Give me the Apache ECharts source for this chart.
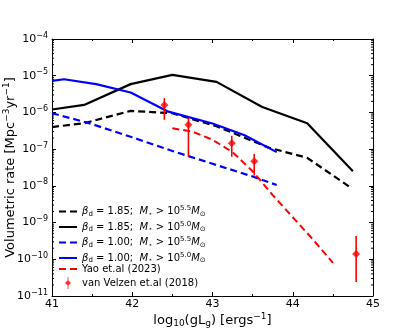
<!DOCTYPE html>
<html>
<head>
<meta charset="utf-8">
<script src="https://cdn.jsdelivr.net/npm/echarts@6/dist/echarts.min.js"></script>
<style>
  html, body { margin: 0; padding: 0; background: #fff; }
  #chart { width: 415px; height: 332px; }
</style>
</head>
<body>
<div id="chart"></div>
<script>
// model curves (x = log10 gLg, y = volumetric rate)
var xB185 = [41, 41.4, 41.98, 42.5, 43.05, 43.62, 44.18, 44.75];
var yB185s50 = [1.2e-6, 1.6e-6, 5.9e-6, 1.05e-5, 6.8e-6, 1.4e-6, 5.1e-7, 2.5e-8];
var xB185d = [41, 41.4, 41.98, 42.5, 43.05, 43.7, 44.18, 44.72];
var yB185s55 = [4e-7, 5.1e-7, 1.1e-6, 9.5e-7, 4.2e-7, 1.1e-7, 5.8e-8, 9e-9];
var xB100 = [41, 41.15, 41.55, 41.98, 42.45, 43.0, 43.4, 43.8];
var yB100s50 = [7.2e-6, 8e-6, 5.9e-6, 3.5e-6, 1.05e-6, 5e-7, 2.4e-7, 8.3e-8];
var xB100d = [41, 41.45, 42, 42.5, 43, 43.5, 43.8];
var yB100s55 = [9.5e-7, 5.2e-7, 2.1e-7, 8.9e-8, 4e-8, 1.8e-8, 1.05e-8];
// Yao et al (2023)
var xYao = [42.5, 42.75, 43, 43.25, 43.5, 43.75, 44, 44.25, 44.5];
var yYao = [3.7e-7, 3e-7, 1.8e-7, 8.3e-8, 2.5e-8, 5.6e-9, 1.4e-9, 3.5e-10, 8e-11];
// van Velzen et al (2018)
var xVV = [42.4, 42.7, 43.24, 43.52, 44.79];
var yVV = [1.6e-6, 4.6e-7, 1.45e-7, 4.7e-8, 1.4e-10];
var loVV = [6.3e-7, 6.2e-8, 6.2e-8, 1.9e-8, 2.4e-11];
var hiVV = [2.45e-6, 7.1e-7, 2.3e-7, 7.4e-8, 4.3e-10];

// log minor ticks 2..9 of each decade
var minorMant = [2, 3, 4, 5, 6, 7, 8, 9];
var decades = [1e-11, 1e-10, 1e-9, 1e-8, 1e-7, 1e-6, 1e-5];

var modelNames = ['b185_55', 'b185_50', 'b100_55', 'b100_50'];
var obsNames = ['Yao et.al (2023)', 'van Velzen et.al (2018)'];
var legendText = {
  b185_55: '{i|β}{sub|d}{n| = 1.85;  }{i|M}{sub|⋆}{n| > 10}{sup|5.5}{i|M}{sub|⊙}',
  b185_50: '{i|β}{sub|d}{n| = 1.85;  }{i|M}{sub|⋆}{n| > 10}{sup|5.0}{i|M}{sub|⊙}',
  b100_55: '{i|β}{sub|d}{n| = 1.00;  }{i|M}{sub|⋆}{n| > 10}{sup|5.5}{i|M}{sub|⊙}',
  b100_50: '{i|β}{sub|d}{n| = 1.00;  }{i|M}{sub|⋆}{n| > 10}{sup|5.0}{i|M}{sub|⊙}'
};

function pairs(xs, ys) {
  return xs.map(function (x, i) { return [x, ys[i]]; });
}

var minorVals = [];
decades.forEach(function (d) {
  minorMant.forEach(function (m) { minorVals.push([41, m * d]); });
});

var chart = echarts.init(document.getElementById('chart'));
var font = 'DejaVu Sans';

var tickCommon = {
  axisLine: { show: true, lineStyle: { color: '#000', width: 1 } },
  axisTick: { show: true, inside: true, length: 4, lineStyle: { color: '#000' } },
  splitLine: { show: false }
};

function lineSeries(name, data, color, dashed, width) {
  return {
    name: name,
    type: 'line',
    data: data,
    symbol: 'none',
    silent: true,
    lineStyle: { color: color, width: width, type: dashed ? [7, 4] : 'solid' },
    itemStyle: { color: color },
    z: 3
  };
}

var legendRich = {
  n: { fontSize: 10, fontFamily: font },
  i: { fontSize: 10, fontFamily: font, fontStyle: 'italic' },
  sub: { fontSize: 7, fontFamily: font, padding: [5, 0, 0, 0] },
  sup: { fontSize: 7, fontFamily: font, padding: [0, 0, 6, 0] }
};

// diamond marker with a vertical error bar through it
var errIcon = 'path://M9.5,0 h1 v14 h-1 Z M10,3.5 L13.5,7 L10,10.5 L6.5,7 Z';

var option = {
  animation: false,
  backgroundColor: '#fff',
  textStyle: { fontFamily: font },
  grid: { left: 52, right: 42, top: 39, bottom: 36, outerBoundsMode: 'none', containLabel: false },
  legend: [{
    data: modelNames.map(function (n) { return { name: n, itemStyle: { opacity: 0 } }; }),
    orient: 'vertical',
    left: 58, top: 205,
    itemWidth: 18, itemHeight: 8, itemGap: 3, padding: 0,
    formatter: function (n) { return legendText[n]; },
    textStyle: { fontFamily: font, fontSize: 10, color: '#000', rich: legendRich }
  }, {
    data: [
      { name: obsNames[0], itemStyle: { opacity: 0 } },
      { name: obsNames[1], icon: errIcon }
    ],
    orient: 'vertical',
    left: 58, top: 264,
    itemWidth: 18, itemHeight: 12, itemGap: 3, padding: 0,
    textStyle: { fontFamily: font, fontSize: 10, color: '#000' }
  }],
  xAxis: [{
    type: 'value', min: 41, max: 45, interval: 1,
    position: 'bottom',
    name: '{n|log}{sub|10}{n|(gL}{sub|g}{n|) [ergs}{sup|−1}{n|]}',
    nameLocation: 'middle', nameGap: 16, nameMoveOverlap: false,
    nameTextStyle: {
      color: '#000',
      rich: {
        n: { fontSize: 13, fontFamily: font, color: '#000' },
        sub: { fontSize: 9, fontFamily: font, color: '#000', padding: [7, 0, 0, 0] },
        sup: { fontSize: 9, fontFamily: font, color: '#000', padding: [0, 0, 8, 0] }
      }
    },
    axisLabel: { color: '#000', fontSize: 11, fontFamily: font, margin: 3 },
    minorTick: { show: true, splitNumber: 2, length: 2, lineStyle: { color: '#000' } },
    axisLine: tickCommon.axisLine, axisTick: tickCommon.axisTick, splitLine: tickCommon.splitLine
  }, {
    type: 'value', min: 41, max: 45, interval: 1,
    position: 'top',
    axisLabel: { show: false },
    minorTick: { show: true, splitNumber: 2, length: 2, lineStyle: { color: '#000' } },
    axisLine: tickCommon.axisLine, axisTick: tickCommon.axisTick, splitLine: tickCommon.splitLine
  }],
  yAxis: [{
    type: 'log', logBase: 10, min: 1e-11, max: 1e-4,
    position: 'left',
    name: '{n|Volumetric rate [Mpc}{sup|−3}{n|yr}{sup|−1}{n|]}',
    nameLocation: 'middle', nameGap: 33, nameRotate: 90, nameMoveOverlap: false,
    nameTextStyle: {
      color: '#000',
      rich: {
        n: { fontSize: 13, fontFamily: font, color: '#000' },
        sup: { fontSize: 9, fontFamily: font, color: '#000', padding: [0, 0, 8, 0] }
      }
    },
    axisLabel: {
      margin: 4,
      formatter: function (v) {
        var e = Math.round(Math.log10(v));
        return '{b|10}{s|' + (e < 0 ? '−' + (-e) : e) + '}';
      },
      rich: {
        b: { fontSize: 11, fontFamily: font, color: '#000' },
        s: { fontSize: 8, fontFamily: font, color: '#000', padding: [0, 0, 7, 0] }
      }
    },
    axisLine: tickCommon.axisLine, axisTick: tickCommon.axisTick, splitLine: tickCommon.splitLine
  }, {
    type: 'log', logBase: 10, min: 1e-11, max: 1e-4,
    position: 'right',
    axisLabel: { show: false },
    axisLine: tickCommon.axisLine, axisTick: tickCommon.axisTick, splitLine: tickCommon.splitLine
  }],
  series: [
    lineSeries('b185_55', pairs(xB185d, yB185s55), '#000000', true, 2.2),
    lineSeries('b185_50', pairs(xB185, yB185s50), '#000000', false, 2.2),
    lineSeries('b100_55', pairs(xB100d, yB100s55), '#0000ff', true, 2.2),
    lineSeries('b100_50', pairs(xB100, yB100s50), '#0000ff', false, 2.2),
    lineSeries('Yao et.al (2023)', pairs(xYao, yYao), '#ff0000', true, 2),
    {
      name: 'vverr',
      type: 'custom',
      silent: true,
      data: xVV.map(function (x, i) { return [x, loVV[i], hiVV[i]]; }),
      encode: { x: 0, y: [1, 2] },
      renderItem: function (params, api) {
        var lo = api.coord([api.value(0), api.value(1)]);
        var hi = api.coord([api.value(0), api.value(2)]);
        return {
          type: 'line',
          shape: { x1: lo[0], y1: lo[1], x2: hi[0], y2: hi[1] },
          style: { stroke: '#ff0000', lineWidth: 1.6 }
        };
      },
      z: 4
    },
    {
      name: 'van Velzen et.al (2018)',
      type: 'scatter',
      data: pairs(xVV, yVV),
      symbol: 'diamond',
      symbolSize: 8,
      itemStyle: { color: '#ff0000' },
      silent: true,
      z: 5
    },
    {
      // log-spaced minor ticks on left and right spines
      name: 'yminor',
      type: 'custom',
      silent: true,
      data: minorVals,
      encode: { x: 0, y: 1 },
      renderItem: function (params, api) {
        var p = api.coord([api.value(0), api.value(1)]);
        var cs = params.coordSys;
        var st = { stroke: '#000', lineWidth: 1 };
        return {
          type: 'group',
          children: [
            { type: 'line', shape: { x1: cs.x, y1: p[1], x2: cs.x + 2, y2: p[1] }, style: st },
            { type: 'line', shape: { x1: cs.x + cs.width - 2, y1: p[1], x2: cs.x + cs.width, y2: p[1] }, style: st }
          ]
        };
      },
      z: 1
    }
  ]
};

chart.setOption(option);
</script>
</body>
</html>
